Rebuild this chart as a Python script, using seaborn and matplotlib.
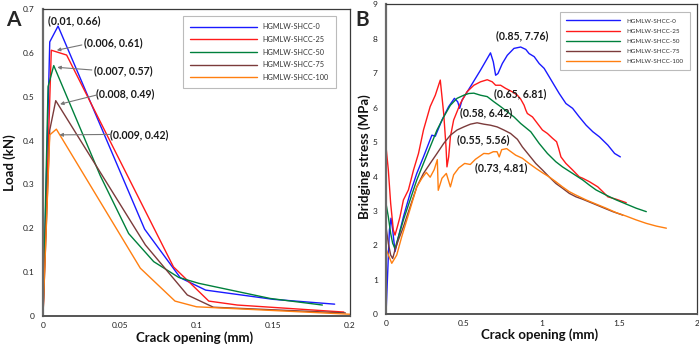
import numpy as np
import pandas as pd
import matplotlib
matplotlib.use("Agg")
import matplotlib.pyplot as plt
import seaborn as sns

# ---------------- data ----------------
series_names = ["HGMLW-SHCC-0", "HGMLW-SHCC-25", "HGMLW-SHCC-50", "HGMLW-SHCC-75", "HGMLW-SHCC-100"]
series_colors = ["#1a1aff", "#ff1a1a", "#00803c", "#7b3b3b", "#ff7f10"]

# Panel A : load vs crack opening
a_x_0 = [0, 0.0044, 0.0098, 0.0662, 0.0895, 0.106, 0.15, 0.19]
a_y_0 = [0, 0.625, 0.661, 0.198, 0.087, 0.059, 0.038, 0.027]
a_x_25 = [0, 0.0054, 0.0154, 0.085, 0.108, 0.1266, 0.196]
a_y_25 = [0, 0.606, 0.595, 0.112, 0.034, 0.025, 0.009]
a_x_50 = [0, 0.0033, 0.007, 0.0373, 0.0558, 0.0721, 0.0884, 0.1015, 0.148, 0.182]
a_y_50 = [0, 0.523, 0.571, 0.32, 0.188, 0.124, 0.088, 0.0745, 0.04, 0.025]
a_x_75 = [0, 0.0044, 0.0083, 0.0667, 0.094, 0.111, 0.197]
a_y_75 = [0, 0.424, 0.491, 0.162, 0.048, 0.02, 0.007]
a_x_100 = [0, 0.0044, 0.0087, 0.0634, 0.086, 0.1, 0.2]
a_y_100 = [0, 0.413, 0.426, 0.109, 0.034, 0.021, 0.004]

a_peak_labels = ["(0.01, 0.66)", "(0.006, 0.61)", "(0.007, 0.57)", "(0.008, 0.49)", "(0.009, 0.42)"]
a_xticks = [0, 0.05, 0.1, 0.15, 0.2]
a_xticklabels = ["0", "0.05", "0.1", "0.15", "0.2"]
a_yticks = [0, 0.1, 0.2, 0.3, 0.4, 0.5, 0.6, 0.7]
a_yticklabels = ["0", "0.1", "0.2", "0.3", "0.4", "0.5", "0.6", "0.7"]

# Panel B : bridging stress vs crack opening
b_x_0 = [0, 0.022, 0.032, 0.043, 0.058, 0.08, 0.112, 0.155, 0.198, 0.241, 0.295, 0.317, 0.36, 0.403,
         0.44, 0.461, 0.474, 0.489, 0.543, 0.608, 0.672, 0.69, 0.705, 0.72, 0.748, 0.78, 0.823, 0.866,
         0.899, 0.92, 0.953, 0.985, 1.017, 1.049, 1.082, 1.114, 1.157, 1.2, 1.243, 1.287, 1.33, 1.373,
         1.427, 1.47, 1.507]
b_y_0 = [0, 2.45, 2.79, 2.45, 1.82, 2.25, 2.83, 3.51, 4.09, 4.57, 5.2, 5.17, 5.64, 6.03,
         6.27, 6.17, 5.98, 6.22, 6.61, 7.09, 7.59, 7.33, 6.94, 6.99, 7.28, 7.52, 7.72, 7.76,
         7.69, 7.57, 7.48, 7.28, 7.14, 6.9, 6.65, 6.41, 6.12, 5.98, 5.73, 5.49, 5.3, 5.15,
         4.91, 4.67, 4.57]
b_x_25 = [0, 0, 0.015, 0.03, 0.047, 0.058, 0.073, 0.09, 0.112, 0.144, 0.177, 0.209, 0.241, 0.284,
          0.317, 0.349, 0.371, 0.386, 0.392, 0.403, 0.414, 0.435, 0.478, 0.521, 0.565, 0.608, 0.651,
          0.683, 0.705, 0.737, 0.769, 0.812, 0.845, 0.866, 0.888, 0.899, 0.909, 0.942, 0.974, 1.006,
          1.038, 1.071, 1.097, 1.11, 1.125, 1.157, 1.2, 1.243, 1.265, 1.308, 1.362, 1.394, 1.427,
          1.481, 1.545]
b_y_25 = [0, 4.87, 4.19, 3.22, 2.45, 2.3, 2.54, 2.83, 3.32, 3.61, 4.19, 4.67, 5.35, 6.03,
          6.36, 6.8, 5.83, 4.86, 4.28, 4.57, 5.15, 5.64, 6.12, 6.46, 6.65, 6.75, 6.81,
          6.75, 6.65, 6.65, 6.56, 6.46, 6.36, 6.25, 6.07, 5.93, 5.83, 5.73, 5.54, 5.35,
          5.25, 5.11, 5.01, 4.82, 4.57, 4.38, 4.19, 3.99, 3.95, 3.85, 3.7, 3.56, 3.41,
          3.34, 3.24]
b_x_50 = [0, 0, 0.015, 0.03, 0.043, 0.058, 0.08, 0.112, 0.155, 0.198, 0.241, 0.284, 0.328, 0.371,
          0.414, 0.457, 0.5, 0.532, 0.565, 0.608, 0.651, 0.694, 0.737, 0.78, 0.823, 0.866, 0.931,
          0.985, 1.038, 1.092, 1.135, 1.2, 1.265, 1.308, 1.351, 1.416, 1.481, 1.545, 1.609, 1.674]
b_y_50 = [0, 3.22, 2.83, 2.35, 2.06, 1.91, 2.25, 2.74, 3.32, 3.9, 4.38, 4.86, 5.35, 5.73,
          6.07, 6.27, 6.36, 6.41, 6.42, 6.36, 6.32, 6.17, 6.03, 5.88, 5.73, 5.54, 5.3,
          4.96, 4.67, 4.43, 4.28, 4.09, 3.9, 3.75, 3.61, 3.46, 3.32, 3.2, 3.08, 2.98]
b_x_75 = [0, 0, 0.015, 0.03, 0.043, 0.058, 0.08, 0.112, 0.155, 0.198, 0.241, 0.284, 0.328, 0.371,
          0.414, 0.457, 0.5, 0.543, 0.586, 0.629, 0.672, 0.715, 0.758, 0.801, 0.845, 0.877, 0.92,
          0.963, 1.006, 1.049, 1.092, 1.135, 1.179, 1.222, 1.265, 1.33, 1.394, 1.459, 1.523]
b_y_75 = [0, 2.54, 2.06, 1.72, 1.62, 1.87, 2.16, 2.54, 3.12, 3.7, 4.09, 4.38, 4.67, 4.96,
          5.2, 5.35, 5.44, 5.52, 5.56, 5.52, 5.49, 5.44, 5.35, 5.25, 5.08, 4.86, 4.62,
          4.38, 4.19, 3.99, 3.8, 3.66, 3.51, 3.41, 3.34, 3.22, 3.1, 2.98, 2.88]
b_x_100 = [0, 0, 0.037, 0.069, 0.101, 0.134, 0.166, 0.198, 0.231, 0.259, 0.284, 0.31, 0.33, 0.336,
           0.36, 0.388, 0.414, 0.435, 0.468, 0.506, 0.542, 0.575, 0.629, 0.661, 0.69, 0.714, 0.728,
           0.744, 0.776, 0.834, 0.877, 0.92, 0.963, 1.006, 1.049, 1.092, 1.135, 1.179, 1.222, 1.287,
           1.351, 1.416, 1.481, 1.545, 1.609, 1.674, 1.739, 1.803]
b_y_100 = [0, 1.9, 1.48, 1.72, 2.25, 2.74, 3.22, 3.7, 3.95, 4.12, 3.98, 4.2, 4.49, 3.6,
           3.95, 4.09, 3.7, 4.05, 4.25, 4.38, 4.35, 4.5, 4.67, 4.66, 4.72, 4.72, 4.57,
           4.78, 4.81, 4.62, 4.53, 4.38, 4.24, 4.11, 3.99, 3.85, 3.7, 3.56, 3.46, 3.32,
           3.2, 3.08, 2.95, 2.85, 2.74, 2.64, 2.56, 2.5]

b_peak_labels = ["(0.85, 7.76)", "(0.65, 6.81)", "(0.58, 6.42)", "(0.55, 5.56)", "(0.73, 4.81)"]
b_xticks = [0, 0.5, 1, 1.5, 2]
b_xticklabels = ["0", "0.5", "1", "1.5", "2"]
b_yticks = list(range(10))
b_yticklabels = [str(v) for v in range(10)]


def long_frame(xs, ys):
    parts = []
    for name, x, y in zip(series_names, xs, ys):
        parts.append(pd.DataFrame({"x": x, "y": y, "series": name}))
    return pd.concat(parts, ignore_index=True)


df_a = long_frame([a_x_0, a_x_25, a_x_50, a_x_75, a_x_100],
                  [a_y_0, a_y_25, a_y_50, a_y_75, a_y_100])
df_b = long_frame([b_x_0, b_x_25, b_x_50, b_x_75, b_x_100],
                  [b_y_0, b_y_25, b_y_50, b_y_75, b_y_100])

# ---------------- style ----------------
sns.set_style("white")
plt.rcParams["font.family"] = ["Lato", "DejaVu Sans"]
plt.rcParams["axes.linewidth"] = 1.0

palette = dict(zip(series_names, series_colors))
fig = plt.figure(figsize=(6.99, 3.44), dpi=100)
fig.patch.set_facecolor("white")

ax_a = fig.add_axes([43 / 699, 28 / 344, 307 / 699, 307 / 344])
ax_b = fig.add_axes([386 / 699, 29.7 / 344, 311 / 699, 310 / 344])

for ax, df in ((ax_a, df_a), (ax_b, df_b)):
    sns.lineplot(data=df, x="x", y="y", hue="series", hue_order=series_names,
                 palette=palette, sort=False, estimator=None, units="series",
                 linewidth=1.0, legend=False, ax=ax)


def style_axes(ax, xt, xtl, yt, ytl, xlim, ylim, ylab, ylab_x, xlab_y, ylab_y=0.5):
    ax.set_xlim(*xlim)
    ax.set_ylim(*ylim)
    ax.set_xticks(xt)
    ax.set_xticklabels(xtl)
    ax.set_yticks(yt)
    ax.set_yticklabels(ytl)
    ax.tick_params(direction="in", length=3, width=0.8, colors="#555555",
                   labelcolor="#222222", labelsize=6)
    ax.tick_params(axis="x", pad=4)
    ax.tick_params(axis="y", pad=6)
    for s in ax.spines.values():
        s.set_color("#3a3a3a")
        s.set_linewidth(0.9)
    ax.spines["left"].set_color("#6a6a6a")
    ax.spines["left"].set_linewidth(1.6)
    ax.spines["bottom"].set_color("#555555")
    ax.spines["bottom"].set_linewidth(1.4)
    ax.set_xlabel("Crack opening (mm)", fontsize=9.5, fontweight="bold", color="#111111")
    ax.set_ylabel(ylab, fontsize=9.5, fontweight="bold", color="#111111")
    ax.xaxis.label.set_verticalalignment("center")
    ax.yaxis.label.set_verticalalignment("center")
    ax.xaxis.set_label_coords(0.495, xlab_y)
    ax.yaxis.set_label_coords(ylab_x, ylab_y)


style_axes(ax_a, a_xticks, a_xticklabels, a_yticks, a_yticklabels, (0, 0.2), (0, 0.7),
           "Load (kN)", -0.107, -0.072)
style_axes(ax_b, b_xticks, b_xticklabels, b_yticks, b_yticklabels, (0, 2), (0, 9),
           "Bridging stress (MPa)", -0.068, -0.066, 0.51)

# legends
leg_a = ax_a.legend(ax_a.get_lines()[:5], series_names, loc="upper left",
                    bbox_to_anchor=(0.456, 0.977), fontsize=5.2, frameon=True, fancybox=False,
                    handlelength=9.3, handletextpad=0.7, labelspacing=0.78, borderpad=1.0,
                    borderaxespad=0)
leg_a.get_frame().set_edgecolor("#aaaaaa")
leg_a.get_frame().set_linewidth(0.8)
for t in leg_a.get_texts():
    t.set_color("#333333")

leg_b = ax_b.legend(ax_b.get_lines()[:5], series_names, loc="upper left",
                    bbox_to_anchor=(0.559, 0.975), fontsize=4.5, frameon=True, fancybox=False,
                    handlelength=8.6, handletextpad=1.1, labelspacing=0.75, borderpad=1.0,
                    borderaxespad=0)
leg_b.get_frame().set_edgecolor("#aaaaaa")
leg_b.get_frame().set_linewidth(0.8)
for t in leg_b.get_texts():
    t.set_color("#333333")

# annotations panel A
ann_kw = dict(fontsize=7.6, fontweight="bold", color="#1a1a1a", ha="center", va="center")
a_text_pos = [(0.0203, 0.673), (0.0458, 0.623), (0.0523, 0.559), (0.0536, 0.506), (0.0629, 0.413)]
a_arrow_from = [None, (0.0253, 0.618), (0.0318, 0.561), (0.0351, 0.504), (0.0438, 0.414)]
a_arrow_to = [None, (0.009, 0.606), (0.0093, 0.567), (0.0111, 0.483), (0.0107, 0.413)]
for lab, pos, p0, p1 in zip(a_peak_labels, a_text_pos, a_arrow_from, a_arrow_to):
    ax_a.text(pos[0], pos[1], lab, **ann_kw)
    if p0 is not None:
        ax_a.annotate("", xy=p1, xytext=p0,
                      arrowprops=dict(arrowstyle="-|>", color="#777777", lw=0.8,
                                      mutation_scale=5, shrinkA=0, shrinkB=0))

# annotations panel B
b_text_pos = [(0.877, 8.1), (0.866, 6.41), (0.646, 5.85), (0.625, 5.08), (0.741, 4.26)]
for lab, pos in zip(b_peak_labels, b_text_pos):
    ax_b.text(pos[0], pos[1], lab, **ann_kw)

# panel letters
fig.text(13 / 699, 1 - 20 / 344, "A", fontsize=15, fontweight="bold", ha="center", va="center")
fig.text(362 / 699, 1 - 20 / 344, "B", fontsize=15, fontweight="bold", ha="center", va="center")

fig.savefig("out.png", dpi=100, facecolor="white")
